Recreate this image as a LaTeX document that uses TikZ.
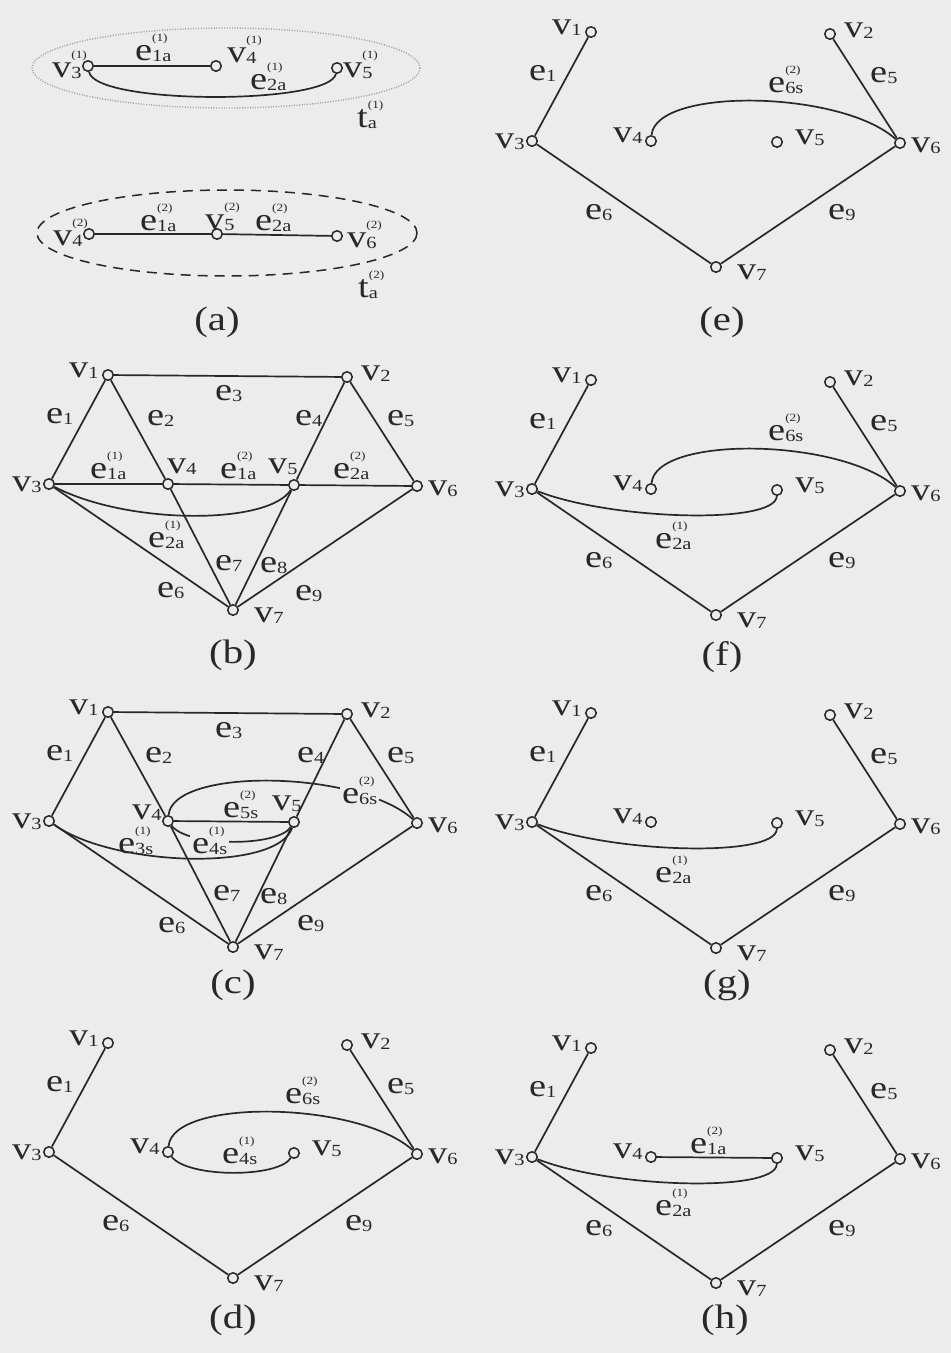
\documentclass[tikz,border=0pt]{standalone}
\usepackage{fontspec}
\newfontfamily\lblfam[FakeStretch=1.2]{Liberation Serif}
\definecolor{bg}{RGB}{236,236,236}
\definecolor{ink}{RGB}{40,40,40}
\newcommand\mainf{\lblfam\fontsize{32}{34}\selectfont}
\newcommand\subf{\lblfam\fontsize{17}{18}\selectfont}
\newcommand\supf{\lblfam\fontsize{11}{12}\selectfont}
\newcommand\capf{\lblfam\fontsize{34}{36}\selectfont}
\newcommand\gl[3]{#1\rlap{\raisebox{19pt}{\supf #3}}\raisebox{-1.5pt}{\subf #2}}
\tikzset{
  vtx/.style={circle, draw=ink, fill=bg, line width=1.5pt, inner sep=0pt, minimum size=10.5pt},
  lbl/.style={anchor=base west, inner sep=0pt, text=ink, font=\mainf},
  lblf/.style={lbl, fill=bg, inner xsep=2pt},
  ln/.style={draw=ink, line width=1.7pt},
  captxt/.style={text=ink, font=\capf, inner sep=0pt}
}
\newcommand\basepanel[1]{%
  \node[vtx] (#1v1) at (0,0) {};
  \node[vtx] (#1v2) at (239,2) {};
  \node[vtx] (#1v3) at (-59,109) {};
  \node[vtx] (#1v4) at (60,109) {};
  \node[vtx] (#1v5) at (186,110) {};
  \node[vtx] (#1v6) at (309,111) {};
  \node[vtx] (#1v7) at (125,235) {};
  \node[lbl] (#1L1) at (-39,2) {\gl{v}{1}{}};
  \node[lbl] (#1L2) at (253,5) {\gl{v}{2}{}};
  \node[lbl] (#1L3) at (-96,116) {\gl{v}{3}{}};
  \node[lbl] (#1L6) at (320,120) {\gl{v}{6}{}};
  \node[lbl] (#1L7) at (146,247) {\gl{v}{7}{}};
  \node[lbl] (#1e1) at (-62,48) {\gl{e}{1}{}};
  \node[lbl] (#1e5) at (279,50) {\gl{e}{5}{}};
  \draw[ln] (#1v1) -- (#1v3);
  \draw[ln] (#1v2) -- (#1v6);
  \draw[ln] (#1v3) -- (#1v7);
  \draw[ln] (#1v6) -- (#1v7);
}
\begin{document}
\begin{tikzpicture}[x=1pt,y=-1pt]
\useasboundingbox (0,0) rectangle (951,1353);
\fill[bg] (0,0) rectangle (951,1353);

% ---------------- (a)
\draw[gray!75, line width=1.4pt, dash pattern=on 1pt off 1.6pt] (226,68) ellipse [x radius=194, y radius=40];
\draw[ink, line width=1.5pt, dash pattern=on 10pt off 7pt] (227,233) ellipse [x radius=190, y radius=43];
\node[vtx] (a3) at (88,66) {};
\node[vtx] (a4) at (216,66) {};
\node[vtx] (a5) at (337,68) {};
\draw[ln] (a3) -- (a4);
\draw[ln] (a3) .. controls (95,105) and (330,105) .. (a5);
\node[lbl] (aL3) at (52,77) {\gl{v}{3}{(1)}};
\node[lbl] (ae1) at (135,60) {\gl{e}{1a}{(1)}};
\node[lbl] (aL4) at (227,62) {\gl{v}{4}{(1)}};
\node[lbl] (ae2) at (250,89) {\gl{e}{2a}{(1)}};
\node[lbl] (aL5) at (343,77) {\gl{v}{5}{(1)}};
\node[lbl] (at1) at (357,127) {\gl{t}{a}{(1)}};
\node[vtx] (a4b) at (89,234) {};
\node[vtx] (a5b) at (217,234) {};
\node[vtx] (a6b) at (337,236) {};
\draw[ln] (a4b) -- (a5b);
\draw[ln] (a5b) -- (a6b);
\node[lbl] (aL4b) at (53,245) {\gl{v}{4}{(2)}};
\node[lbl] (ae1b) at (140,230) {\gl{e}{1a}{(2)}};
\node[lbl] (aL5b) at (205,229) {\gl{v}{5}{(2)}};
\node[lbl] (ae2b) at (255,230) {\gl{e}{2a}{(2)}};
\node[lbl] (aL6b) at (347,247) {\gl{v}{6}{(2)}};
\node[lbl] (at2) at (358,297) {\gl{t}{a}{(2)}};
\node[captxt] (capa) at (217,322) {(a)};

% ---------------- (b)
\begin{scope}[shift={(108,375)}]
\basepanel{b}
\draw[ln] (bv1) -- (bv2);
\draw[ln] (bv1) -- (bv4);
\draw[ln] (bv4) -- (bv7);
\draw[ln] (bv2) -- (bv5);
\draw[ln] (bv5) -- (bv7);
\draw[ln] (bv3) -- (bv4);
\draw[ln] (bv4) -- (bv5);
\draw[ln] (bv5) -- (bv6);
\draw[ln] (bv3) .. controls (20,150) and (160,150) .. (bv5);
\node[lbl] (bL4) at (59,98) {\gl{v}{4}{}};
\node[lbl] (bL5) at (160,98) {\gl{v}{5}{}};
\node[lbl] (be3) at (107,25) {\gl{e}{3}{}};
\node[lbl] (be2) at (39,50) {\gl{e}{2}{}};
\node[lbl] (be4) at (187,50) {\gl{e}{4}{}};
\node[lbl] (be6) at (49,222) {\gl{e}{6}{}};
\node[lbl] (be9) at (187,225) {\gl{e}{9}{}};
\node[lbl] (be7) at (107,195) {\gl{e}{7}{}};
\node[lbl] (be8) at (152,197) {\gl{e}{8}{}};
\node[lbl] (be1a) at (-18,103) {\gl{e}{1a}{(1)}};
\node[lbl] (be1b) at (112,103) {\gl{e}{1a}{(2)}};
\node[lbl] (be2b) at (225,103) {\gl{e}{2a}{(2)}};
\node[lbl] (be2a) at (40,172) {\gl{e}{2a}{(1)}};
\end{scope}
\node[captxt] (capb) at (233,655) {(b)};

% ---------------- (c)
\begin{scope}[shift={(108,712)}]
\basepanel{c}
\draw[ln] (cv1) -- (cv2);
\draw[ln] (cv1) -- (cv4);
\draw[ln] (cv4) -- (cv7);
\draw[ln] (cv2) -- (cv5);
\draw[ln] (cv5) -- (cv7);
\draw[ln] (cv4) -- (cv5);
\draw[ln] (cv4) .. controls (65,55) and (250,58) .. (cv6);
\draw[ln] (cv4) .. controls (80,135) and (170,135) .. (cv5);
\draw[ln] (cv3) .. controls (5,155) and (170,160) .. (cv5);
\node[lbl] (cL4) at (24,107) {\gl{v}{4}{}};
\node[lbl] (cL5) at (164,98) {\gl{v}{5}{}};
\node[lbl] (ce3) at (107,25) {\gl{e}{3}{}};
\node[lbl] (ce2) at (37,50) {\gl{e}{2}{}};
\node[lbl] (ce4) at (189,50) {\gl{e}{4}{}};
\node[lbl] (ce6) at (50,220) {\gl{e}{6}{}};
\node[lbl] (ce9) at (189,218) {\gl{e}{9}{}};
\node[lbl] (ce7) at (105,188) {\gl{e}{7}{}};
\node[lbl] (ce8) at (152,191) {\gl{e}{8}{}};
\node[lblf] (ce6s) at (232,91) {\gl{e}{6s}{(2)}};
\node[lbl] (ce5s) at (115,105) {\gl{e}{5s}{(2)}};
\node[lbl] (ce3s) at (10,141) {\gl{e}{3s}{(1)}};
\node[lblf] (ce4s) at (82,141) {\gl{e}{4s}{(1)}};
\end{scope}
\node[captxt] (capc) at (233,985) {(c)};

% ---------------- (d)
\begin{scope}[shift={(108,1043)}]
\basepanel{d}
\draw[ln] (dv4) .. controls (65,55) and (250,58) .. (dv6);
\draw[ln] (dv4) .. controls (80,135) and (170,135) .. (dv5);
\node[lbl] (dL4) at (22,110) {\gl{v}{4}{}};
\node[lbl] (dL5) at (204,112) {\gl{v}{5}{}};
\node[lbl] (de6) at (-6,187) {\gl{e}{6}{}};
\node[lbl] (de9) at (237,187) {\gl{e}{9}{}};
\node[lbl] (de6s) at (177,60) {\gl{e}{6s}{(2)}};
\node[lbl] (de4s) at (114,120) {\gl{e}{4s}{(1)}};
\end{scope}
\node[captxt] (capd) at (233,1320) {(d)};

% ---------------- (e)
\begin{scope}[shift={(591,32)}]
\basepanel{e}
\draw[ln] (ev4) .. controls (65,55) and (250,58) .. (ev6);
\node[lbl] (eL4) at (22,110) {\gl{v}{4}{}};
\node[lbl] (eL5) at (204,112) {\gl{v}{5}{}};
\node[lbl] (ee6) at (-6,187) {\gl{e}{6}{}};
\node[lbl] (ee9) at (237,187) {\gl{e}{9}{}};
\node[lbl] (ee6s) at (177,60) {\gl{e}{6s}{(2)}};
\end{scope}
\node[captxt] (cape) at (722,322) {(e)};

% ---------------- (f)
\begin{scope}[shift={(591,380)}]
\basepanel{f}
\draw[ln] (fv4) .. controls (65,55) and (250,58) .. (fv6);
\draw[ln] (fv3) .. controls (20,140) and (185,145) .. (fv5);
\node[lbl] (fL4) at (22,110) {\gl{v}{4}{}};
\node[lbl] (fL5) at (204,112) {\gl{v}{5}{}};
\node[lbl] (fe6) at (-6,187) {\gl{e}{6}{}};
\node[lbl] (fe9) at (237,187) {\gl{e}{9}{}};
\node[lbl] (fe6s) at (177,60) {\gl{e}{6s}{(2)}};
\node[lbl] (fe2a) at (64,168) {\gl{e}{2a}{(1)}};
\end{scope}
\node[captxt] (capf) at (722,657) {(f)};

% ---------------- (g)
\begin{scope}[shift={(591,713)}]
\basepanel{g}
\draw[ln] (gv3) .. controls (20,140) and (185,145) .. (gv5);
\node[lbl] (gL4) at (22,110) {\gl{v}{4}{}};
\node[lbl] (gL5) at (204,112) {\gl{v}{5}{}};
\node[lbl] (ge6) at (-6,187) {\gl{e}{6}{}};
\node[lbl] (ge9) at (237,187) {\gl{e}{9}{}};
\node[lbl] (ge2a) at (64,169) {\gl{e}{2a}{(1)}};
\end{scope}
\node[captxt] (capg) at (727,985) {(g)};

% ---------------- (h)
\begin{scope}[shift={(591,1048)}]
\basepanel{h}
\draw[ln] (hv4) -- (hv5);
\draw[ln] (hv3) .. controls (20,140) and (185,145) .. (hv5);
\node[lbl] (hL4) at (22,110) {\gl{v}{4}{}};
\node[lbl] (hL5) at (204,112) {\gl{v}{5}{}};
\node[lbl] (he6) at (-6,187) {\gl{e}{6}{}};
\node[lbl] (he9) at (237,187) {\gl{e}{9}{}};
\node[lbl] (he1a) at (99,105) {\gl{e}{1a}{(2)}};
\node[lbl] (he2a) at (64,167) {\gl{e}{2a}{(1)}};
\end{scope}
\node[captxt] (caph) at (725,1320) {(h)};
\end{tikzpicture}
\end{document}
